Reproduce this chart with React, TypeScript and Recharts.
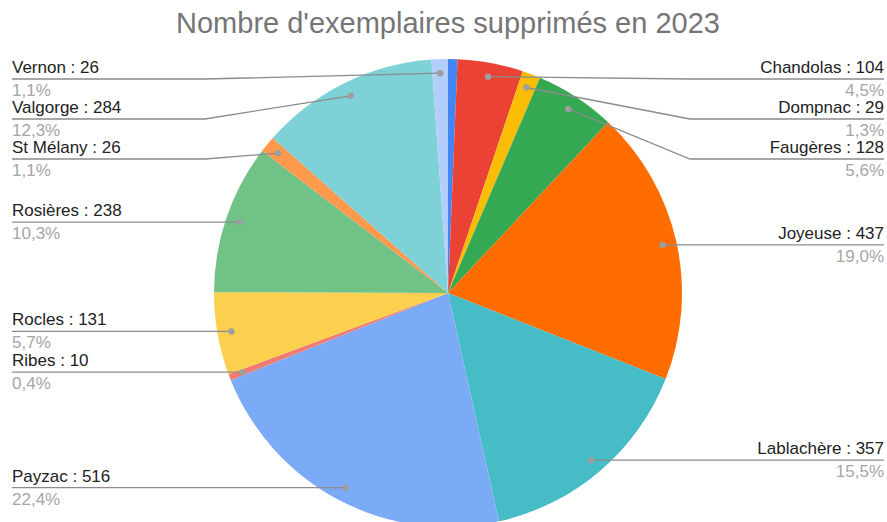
import React from 'react';
import { PieChart, Pie, Cell } from 'recharts';

const CATEGORIES = ['', 'Chandolas', 'Dompnac', 'Faugères', 'Joyeuse', 'Lablachère', 'Payzac', 'Ribes', 'Rocles', 'Rosières', 'St Mélany', 'Valgorge', 'Vernon'];
const VALUES = [15, 104, 29, 128, 437, 357, 516, 10, 131, 238, 26, 284, 26];
const COLORS = ['#4285F4', '#EA4335', '#FBBC04', '#34A853', '#FF6D01', '#46BDC6', '#7BAAF7', '#F07B72', '#FCD04F', '#71C287', '#FF994D', '#7ED1D7', '#B3CEFB'];
const TITLE = "Nombre d'exemplaires supprimés en 2023";

const W = 887;
const H = 522;
const FONT = '"Liberation Sans", Arial, sans-serif';

const data = CATEGORIES.map((name, i) => ({ name, value: VALUES[i] }));
const TOTAL = VALUES.reduce((a, b) => a + b, 0);

const fmtPct = (v: number) => ((v / TOTAL) * 100).toFixed(1).replace('.', ',') + '%';

// place label rows on each side, pushing them apart when they collide
function layoutLabels(cx: number, cy: number, r: number) {
  const out: Record<number, { px: number; py: number; y: number; left: boolean }> = {};
  const sides: { [k: string]: { i: number; px: number; py: number }[] } = { left: [], right: [] };
  let acc = 0;
  VALUES.forEach((v, i) => {
    const a = ((acc + v / 2) / TOTAL) * Math.PI * 2;
    acc += v;
    if (!CATEGORIES[i]) return;
    const px = cx + Math.sin(a) * r * 0.94;
    const py = cy - Math.cos(a) * r * 0.94;
    sides[px < cx ? 'left' : 'right'].push({ i, px, py });
  });
  Object.keys(sides).forEach((k) => {
    const list = sides[k].sort((a, b) => a.py - b.py);
    let prev = -Infinity;
    list.forEach((it) => {
      const y = Math.max(it.py, 79, prev + 40);
      prev = y;
      out[it.i] = { px: it.px, py: it.py, y, left: k === 'left' };
    });
  });
  return out;
}

const renderLabel = (props: any) => {
  const { cx, cy, outerRadius, index } = props;
  if (!CATEGORIES[index]) return null;
  const pos = layoutLabels(cx, cy, outerRadius)[index];
  const bendX = pos.left ? cx - outerRadius - 9 : cx + outerRadius + 8;
  const edgeX = pos.left ? 12 : 884;
  const anchor = pos.left ? 'start' : 'end';
  return (
    <g key={`lbl-${index}`}>
      <polyline
        points={`${pos.px},${pos.py} ${bendX},${pos.y} ${edgeX},${pos.y}`}
        fill="none"
        stroke="#8c8c8c"
        strokeWidth={1.3}
      />
      <circle cx={pos.px} cy={pos.py} r={3.2} fill="#9e9e9e" />
      <text x={edgeX} y={pos.y - 6} textAnchor={anchor} fontSize={17} fill="#222" fontFamily={FONT}>
        {`${CATEGORIES[index]} : ${VALUES[index]}`}
      </text>
      <text x={edgeX} y={pos.y + 17} textAnchor={anchor} fontSize={17} fill="#a6a6a6" fontFamily={FONT}>
        {fmtPct(VALUES[index])}
      </text>
    </g>
  );
};

export default function App() {
  return (
    <div style={{ position: 'absolute', left: 0, top: 0, width: W, height: H, background: '#fff' }}>
      <svg width={W} height={50} style={{ position: 'absolute', left: 0, top: 0 }}>
        <text x={448} y={33} textAnchor="middle" fontSize={29} fill="#757575" fontFamily={FONT}>
          {TITLE}
        </text>
      </svg>
      <div style={{ position: 'absolute', left: 0, top: 0 }}>
        <PieChart width={W} height={H} margin={{ top: 0, right: 0, bottom: 0, left: 0 }}>
          <Pie
            data={data}
            dataKey="value"
            nameKey="name"
            cx={448}
            cy={293}
            outerRadius={234}
            startAngle={90}
            endAngle={-270}
            stroke="none"
            label={renderLabel}
            labelLine={false}
            isAnimationActive={false}
          >
            {data.map((d, i) => (
              <Cell key={d.name + i} fill={COLORS[i]} />
            ))}
          </Pie>
        </PieChart>
      </div>
    </div>
  );
}
